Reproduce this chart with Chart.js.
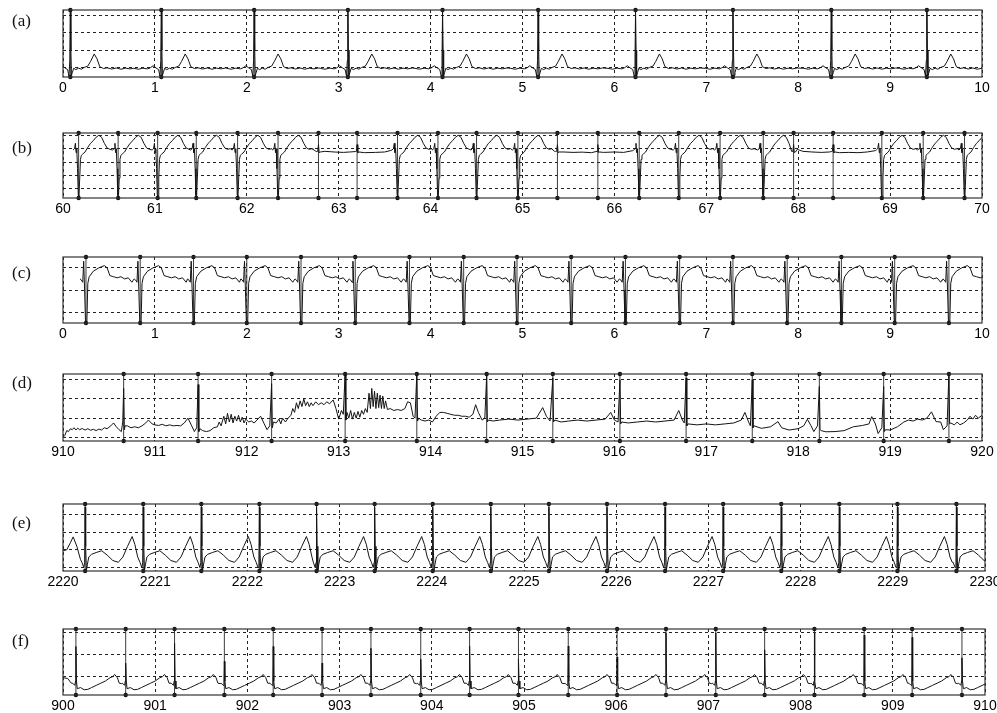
<!DOCTYPE html>
<html><head><meta charset="utf-8">
<script src="https://cdn.jsdelivr.net/npm/chart.js@4/dist/chart.umd.min.js"></script>
<style>
html,body{margin:0;padding:0;background:#fff;width:997px;height:713px;overflow:hidden;position:relative;}
canvas{position:absolute;left:0;}
.lab{position:absolute;left:12px;font-family:"Liberation Serif","Times New Roman",serif;font-size:17px;line-height:18px;color:#111;}
</style></head><body>
<script>
// ---------------- DATA ----------------
const panelLabels = ['(a)','(b)','(c)','(d)','(e)','(f)'];
const xStarts = [0, 60, 0, 910, 2220, 900];
const yLows  = [-0.55, -0.69, -0.49, -0.19, -0.19, -0.84];
const yHighs = [3.32, 4.17, 2.49, 3.30, 3.58, 2.18];

// (a)
const aBeats = [0.08, 1.07, 2.08, 3.10, 4.13, 5.17, 6.23, 7.29, 8.36, 9.40];
const aWave = [[-0.30,-0.05],[-0.25,-0.1],[-0.20,-0.04],[-0.15,-0.08],[-0.12,-0.02],[-0.09,0.1],[-0.06,-0.02],[-0.03,-0.12],
  [-0.015,-0.5],[-0.006,0.4],[0,3.25],[0.006,1.0],[0.012,-0.45],[0.022,-0.3],[0.035,-0.05],[0.06,-0.12],[0.09,-0.04],
  [0.12,-0.1],[0.15,0.0],[0.19,0.08],[0.22,0.35],[0.26,0.78],[0.29,0.5],[0.32,0.05],[0.36,-0.06],[0.40,-0.02],
  [0.45,-0.09],[0.50,-0.03],[0.55,-0.1],[0.60,-0.04],[0.65,-0.08],[0.70,-0.03]];

// (b)
const bBeats = [60.17,60.60,61.03,61.45,61.90,62.34,62.78,63.20,63.64,64.08,64.50,64.95,65.38,65.82,66.27,66.70,67.15,67.62,67.95,68.38,68.91,69.36,69.81];
const bKinds = ['n','n','n','n','n','n','s','s','n','n','n','n','s','s','n','n','n','n','s','s','n','n','n'];
const bWaveN = [[-0.06,2.9],[-0.045,3.0],[-0.035,3.4],[-0.028,2.7],[-0.02,3.0],[-0.012,1.5],[-0.004,-0.5],[0.004,-0.55],
  [0.012,0.8],[0.02,2.2],[0.03,2.5],[0.045,2.6],[0.07,2.75],[0.10,3.1],[0.13,3.4],[0.16,3.6],[0.19,3.85],[0.22,4.0],
  [0.25,3.85],[0.28,3.4],[0.31,3.05],[0.34,2.95],[0.37,3.0]];
const bWaveS = [[-0.02,2.78],[-0.008,2.8],[0,3.3],[0.008,2.7],[0.02,2.75]];
const bFlat = [[62.72,2.95],[62.74,2.85],[62.85,2.8],[62.95,2.75],[63.05,2.72],[63.12,2.75],[63.28,2.7],[63.4,2.72],[63.5,2.75],[63.56,2.85],
  [65.33,2.9],[65.35,2.8],[65.45,2.75],[65.55,2.72],[65.65,2.74],[65.75,2.7],[65.88,2.72],[66.0,2.75],[66.1,2.72],[66.2,2.85],
  [67.99,2.95],[68.05,2.8],[68.15,2.75],[68.25,2.72],[68.34,2.75],[68.45,2.7],[68.55,2.72],[68.65,2.7],[68.75,2.75],[68.84,2.85]];

// (c)
const cBeats = [0.25,0.84,1.42,2.00,2.59,3.18,3.77,4.36,4.94,5.53,6.12,6.71,7.29,7.88,8.47,9.05,9.64];
const cWave = [[-0.065,1.5],[-0.05,1.45],[-0.035,1.35],[-0.025,2.3],[-0.015,1.0],[-0.005,-0.45],[0.01,-0.4],[0.02,1.3],
  [0.035,1.6],[0.08,1.85],[0.14,2.0],[0.20,2.1],[0.23,2.0],[0.26,1.65],[0.30,1.6],[0.34,1.55],[0.38,1.6],[0.42,1.5],
  [0.46,1.55],[0.50,1.35],[0.515,1.45]];

// (d)
const dBeats = [910.66,911.47,912.27,913.07,913.85,914.61,915.33,916.06,916.78,917.50,918.23,918.93,919.64];
const dTrace = [
 [910.00,0.0],[910.02,0.1],[910.04,0.35],[910.06,0.3],[910.08,0.45],[910.10,0.4],[910.12,0.5],[910.14,0.38],[910.16,0.48],[910.18,0.4],
 [910.21,0.46],[910.24,0.38],[910.27,0.45],[910.30,0.37],[910.33,0.42],[910.36,0.35],[910.39,0.43],[910.42,0.38],[910.45,0.5],[910.48,0.45],
 [910.52,0.6],[910.55,0.75],[910.58,0.55],[910.61,0.4],[910.635,0.3],[910.65,0.8],[910.66,2.55],[910.668,0.4],[910.675,0.6],
 [910.70,0.6],[910.74,0.5],[910.78,0.55],[910.82,0.5],[910.86,0.6],[910.90,0.75],[910.93,0.9],[910.97,0.7],[911.0,0.65],[911.04,0.62],
 [911.08,0.68],[911.12,0.6],[911.16,0.65],[911.2,0.6],[911.24,0.62],[911.28,0.6],[911.32,0.75],[911.36,1.0],[911.4,0.6],[911.43,0.3],
 [911.455,0.5],[911.47,2.75],[911.478,0.3],[911.49,0.45],
 [911.52,0.35],[911.56,0.3],[911.6,0.35],[911.64,0.5],[911.68,0.55],[911.7,0.8],[911.72,0.6],[911.75,1.1],[911.77,0.7],[911.79,1.25],
 [911.81,0.8],[911.83,1.2],[911.85,0.75],[911.87,1.1],[911.89,0.85],[911.91,1.15],[911.93,0.8],[911.95,1.05],[911.97,0.75],[911.99,0.95],
 [912.02,0.8],[912.05,0.85],[912.08,0.75],[912.11,0.9],[912.15,1.1],[912.19,0.7],[912.22,0.4],[912.25,0.6],[912.27,2.8],[912.278,0.5],[912.29,0.8],
 [912.32,0.75],[912.35,0.95],[912.37,0.7],[912.39,1.0],[912.42,0.8],[912.45,1.0],[912.48,1.15],[912.5,1.5],[912.52,1.3],[912.54,1.8],
 [912.56,1.5],[912.58,1.9],[912.6,1.6],[912.62,2.0],[912.64,1.65],[912.66,1.85],[912.68,1.6],[912.7,1.8],[912.72,1.65],[912.75,1.85],
 [912.78,1.7],[912.81,1.8],[912.84,1.7],[912.87,1.85],[912.9,1.75],[912.94,1.95],[912.97,1.5],[913.0,0.95],[913.03,1.4],[913.05,1.2],
 [913.07,3.3],[913.078,0.9],[913.09,1.3],
 [913.11,1.0],[913.13,1.4],[913.15,0.95],[913.17,1.3],[913.19,1.0],[913.21,1.35],[913.23,1.05],[913.25,1.4],[913.27,1.2],[913.29,1.5],
 [913.31,1.3],[913.33,2.3],[913.345,1.5],[913.36,2.55],[913.375,1.6],[913.39,2.4],[913.405,1.5],[913.42,2.3],[913.435,1.55],[913.45,2.2],
 [913.465,1.5],[913.48,2.15],[913.495,1.5],[913.51,1.9],[913.53,1.45],[913.56,1.5],[913.6,1.4],[913.64,1.45],[913.68,1.4],[913.72,1.5],
 [913.75,1.85],[913.78,1.8],[913.81,1.1],[913.83,1.0],[913.85,3.3],[913.858,0.85],[913.87,1.0],
 [913.9,0.9],[913.94,0.85],[913.98,0.9],[914.02,0.8],[914.06,1.1],[914.1,1.3],[914.14,1.3],[914.18,1.25],[914.22,1.2],[914.26,1.15],
 [914.3,1.15],[914.34,1.1],[914.38,1.1],[914.42,1.05],[914.46,1.2],[914.49,1.7],[914.52,1.3],[914.56,0.9],[914.59,1.0],
 [914.61,3.2],[914.618,0.8],[914.63,0.9],
 [914.68,0.85],[914.75,0.9],[914.85,0.95],[914.95,0.9],[915.05,0.95],[915.15,1.0],[915.22,1.55],[915.26,1.1],[915.30,0.85],
 [915.33,3.1],[915.338,0.8],[915.35,0.9],
 [915.42,0.8],[915.5,0.85],[915.6,0.9],[915.7,0.85],[915.8,0.9],[915.9,0.95],[915.96,1.3],[916.0,0.9],[916.04,0.8],
 [916.06,3.0],[916.068,0.7],[916.08,0.8],
 [916.15,0.75],[916.25,0.8],[916.35,0.85],[916.45,0.8],[916.55,0.85],[916.65,0.9],[916.7,1.4],[916.74,0.9],[916.76,0.75],
 [916.78,3.1],[916.788,0.6],[916.8,0.7],
 [916.9,0.65],[917.0,0.7],[917.1,0.65],[917.2,0.7],[917.3,0.75],[917.38,0.9],[917.42,1.3],[917.46,0.8],[917.48,0.6],
 [917.5,3.0],[917.508,0.5],[917.52,0.6],
 [917.6,0.47],[917.7,0.55],[917.78,0.82],[917.82,0.5],[917.9,0.38],[918.0,0.45],[918.06,0.6],[918.1,0.94],[918.14,0.6],[918.17,0.3],[918.21,0.6],
 [918.23,2.65],[918.238,0.4],[918.25,0.35],
 [918.3,0.29],[918.4,0.3],[918.5,0.35],[918.6,0.55],[918.7,0.62],[918.77,0.7],[918.8,1.08],[918.84,0.7],[918.87,0.2],[918.91,0.5],
 [918.93,2.65],[918.938,0.3],[918.95,0.4],
 [919.0,0.38],[919.08,0.55],[919.15,0.8],[919.2,0.9],[919.25,0.85],[919.3,0.95],[919.35,0.9],[919.4,1.0],[919.45,1.33],[919.5,0.82],
 [919.55,0.8],[919.58,0.4],[919.62,0.6],[919.64,3.3],[919.648,0.7],[919.66,0.75],
 [919.7,0.65],[919.73,0.8],[919.76,0.65],[919.8,0.75],[919.84,0.9],[919.87,1.1],[919.9,0.95],[919.93,1.15],[919.96,1.0],[920.0,1.15]
];

// (e)
const eBeats = [2220.24,2220.87,2221.50,2222.13,2222.75,2223.38,2224.01,2224.64,2225.27,2225.90,2226.53,2227.16,2227.79,2228.42,2229.05,2229.69];
const eWave = [[-0.035,0.3],[-0.015,0.0],[-0.005,0.3],[0,3.4],[0.006,1.2],[0.014,-0.15],[0.025,0.2],[0.04,0.6],[0.07,0.75],
  [0.12,0.85],[0.18,0.95],[0.24,0.7],[0.30,0.4],[0.36,0.3],[0.41,0.6],[0.46,1.2],[0.51,1.75],[0.54,1.3],[0.57,0.6],[0.595,0.3]];
const eLead = [[2220.0,0.95],[2220.04,1.0],[2220.08,1.4],[2220.11,1.73],[2220.15,1.2],[2220.19,0.45]];

// (f)
const fBeats = [900.14,900.68,901.21,901.75,902.28,902.81,903.34,903.88,904.41,904.94,905.48,906.01,906.54,907.08,907.61,908.15,908.69,909.21,909.75];
const fPeaks = [1.38,0.62,1.54,0.7,1.38,0.62,1.3,0.8,1.4,0.8,1.4,0.9,2.0,2.0,1.23,2.0,1.9,1.8,0.86];
const fWave = [[-0.035,-0.3],[-0.012,-0.4],[-0.004,-0.2],[0,null],[0.006,-0.2],[0.015,-0.55],[0.05,-0.5],[0.09,-0.6],
  [0.13,-0.58],[0.17,-0.5],[0.22,-0.4],[0.27,-0.3],[0.32,-0.2],[0.37,-0.05],[0.40,0.0],[0.42,0.1],[0.45,-0.05],[0.47,-0.3],[0.495,-0.32]];
const fLead = [[900.0,-0.05],[900.05,-0.08],[900.09,-0.3]];

// ---------------- BUILD ----------------
function stitch(beats, kinds, waves, peaks) {
  const pts = [];
  beats.forEach((b, i) => {
    const w = waves[kinds ? kinds[i] : 'n'];
    const nb = beats[i + 1];
    const limit = nb !== undefined ? nb + waves[kinds ? kinds[i + 1] : 'n'][0][0] - 1e-6 : Infinity;
    w.forEach(([dt, y]) => {
      const t = b + dt;
      if (t < limit) pts.push({x: t, y: y === null ? peaks[i] : y});
    });
  });
  return pts;
}
const toPts = arr => arr.map(([x, y]) => ({x, y}));
const sortPts = arr => arr.sort((p, q) => p.x - q.x);

const traces = [
  stitch(aBeats, null, {n: aWave}),
  sortPts(stitch(bBeats, bKinds, {n: bWaveN, s: bWaveS}).concat(toPts(bFlat))),
  stitch(cBeats, null, {n: cWave}),
  toPts(dTrace),
  sortPts(toPts(eLead).concat(stitch(eBeats, null, {n: eWave}))),
  sortPts(toPts(fLead).concat(stitch(fBeats, null, {n: fWave}, fPeaks)))
];
const beatSets = [aBeats, bBeats, cBeats, dBeats, eBeats, fBeats];

// ---------------- LAYOUT ----------------
const boxes = [
  {top: 10, bottom: 77, right: 982, lab: 21.7},
  {top: 133, bottom: 198, right: 982, lab: 148.3},
  {top: 257, bottom: 323, right: 982, lab: 273},
  {top: 374, bottom: 441, right: 982, lab: 383},
  {top: 504, bottom: 571, right: 985, lab: 523},
  {top: 629, bottom: 695, right: 985, lab: 641.7}
];
const LEFT = 63, CW = 1020, PADT = 8, AXIS_H = 22.8, EXTRA = 3.2;

const framePlugin = {
  id: 'frame',
  afterDraw(chart) {
    const {ctx, chartArea: a} = chart;
    ctx.save();
    ctx.strokeStyle = '#333';
    ctx.lineWidth = 1.2;
    ctx.strokeRect(a.left, a.top, a.right - a.left, a.bottom - a.top);
    ctx.restore();
  }
};
const intTicks = s => {
  const out = [];
  for (let v = Math.ceil(s.min - 1e-9); v <= Math.floor(s.max + 1e-9); v++) out.push({value: v});
  s.ticks = out;
};

boxes.forEach((bx, i) => {
  const h = bx.bottom - bx.top;
  const H = Math.round(PADT + h + AXIS_H + EXTRA);
  const cv = document.createElement('canvas');
  cv.width = CW; cv.height = H;
  cv.style.top = (bx.top - PADT) + 'px';
  cv.style.width = CW + 'px'; cv.style.height = H + 'px';
  document.body.appendChild(cv);

  const lab = document.createElement('div');
  lab.className = 'lab';
  lab.textContent = panelLabels[i];
  lab.style.top = (bx.lab - 9.5) + 'px';
  document.body.appendChild(lab);

  const lo = yLows[i], hi = yHighs[i];
  const markers = [];
  beatSets[i].forEach(b => { markers.push({x: b, y: lo}, {x: b, y: hi}, {x: b, y: null}); });

  new Chart(cv, {
    type: 'line',
    data: {datasets: [
      {data: traces[i], borderColor: '#141414', borderWidth: 1, pointRadius: 0, tension: 0, order: 1},
      {data: markers, borderColor: '#3c3c3c', borderWidth: 1, pointRadius: 2.2, pointBackgroundColor: '#111',
       pointBorderWidth: 0, spanGaps: false, clip: false, order: 2}
    ]},
    options: {
      animation: false, responsive: false, events: [],
      plugins: {legend: {display: false}, tooltip: {enabled: false}},
      layout: {padding: {top: PADT, left: LEFT, right: CW - bx.right, bottom: H - PADT - h - AXIS_H}},
      scales: {
        x: {type: 'linear', min: xStarts[i], max: xStarts[i] + 10, afterBuildTicks: intTicks,
            ticks: {autoSkip: false, maxRotation: 0, color: '#000', padding: 3,
                    font: {family: '"Liberation Sans", Arial, sans-serif', size: 14}, callback: v => String(v)},
            grid: {color: '#222', lineWidth: 1, drawTicks: false},
            border: {display: false, dash: [3, 3]}},
        y: {type: 'linear', min: lo, max: hi, afterBuildTicks: intTicks,
            ticks: {display: false},
            grid: {color: '#222', lineWidth: 1, drawTicks: false},
            border: {display: false, dash: [3, 3]}}
      }
    },
    plugins: [framePlugin]
  });
});
</script>
</body></html>
